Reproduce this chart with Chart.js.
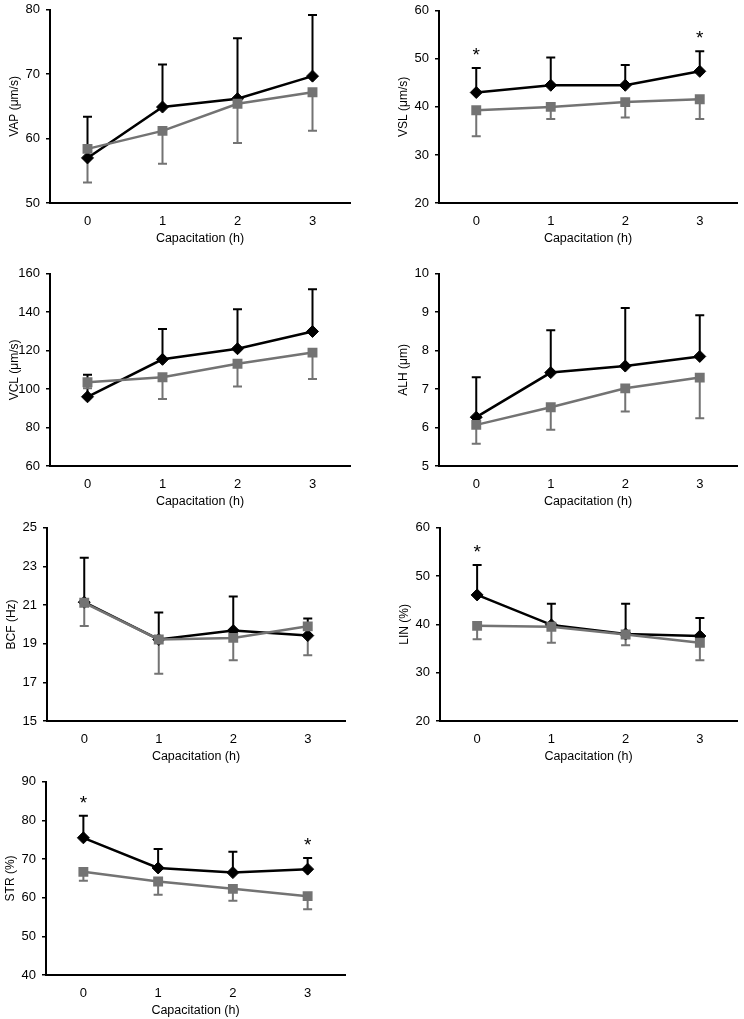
<!DOCTYPE html>
<html>
<head>
<meta charset="utf-8">
<script src="https://cdn.jsdelivr.net/npm/chart.js@4/dist/chart.umd.min.js"></script>
<style>
  body { margin: 0; background: #fff; }
  #page { position: relative; width: 744px; height: 1019px; overflow: hidden; background: #fff; }
  #page canvas { position: absolute; }
</style>
</head>
<body>
<div id="page"></div>
<script>
// --- data ---
const hours = ['0', '1', '2', '3'];

const vapBlack = [57.0, 64.9, 66.2, 69.7];
const vapBlackUp = [63.4, 71.5, 75.6, 79.2];
const vapGray = [58.4, 61.2, 65.4, 67.2];
const vapGrayDown = [53.2, 56.1, 59.3, 61.2];
const vapStars = [];

const vslBlack = [43.0, 44.5, 44.5, 47.4];
const vslBlackUp = [48.1, 50.3, 48.7, 51.6];
const vslGray = [39.3, 40.0, 41.0, 41.6];
const vslGrayDown = [33.9, 37.5, 37.8, 37.5];
const vslStars = [0, 3];

const vclBlack = [96.0, 115.5, 121.0, 130.0];
const vclBlackUp = [107.5, 131.3, 141.5, 152.0];
const vclGray = [103.6, 106.2, 113.2, 119.0];
const vclGrayDown = [100.5, 94.8, 101.4, 105.3];
const vclStars = [];

const alhBlack = [6.27, 7.43, 7.60, 7.85];
const alhBlackUp = [7.31, 8.53, 9.11, 8.92];
const alhGray = [6.07, 6.53, 7.02, 7.30];
const alhGrayDown = [5.58, 5.94, 6.42, 6.24];
const alhStars = [];

const bcfBlack = [21.15, 19.22, 19.68, 19.42];
const bcfBlackUp = [23.45, 20.62, 21.45, 20.30];
const bcfGray = [21.12, 19.22, 19.30, 19.90];
const bcfGrayDown = [19.92, 17.45, 18.15, 18.40];
const bcfStars = [];

const linBlack = [46.1, 39.9, 38.0, 37.6];
const linBlackUp = [52.3, 44.3, 44.3, 41.3];
const linGray = [39.7, 39.5, 37.9, 36.2];
const linGrayDown = [36.9, 36.2, 35.7, 32.6];
const linStars = [0];

const strBlack = [75.5, 67.7, 66.5, 67.4];
const strBlackUp = [81.2, 72.6, 71.9, 70.3];
const strGray = [66.7, 64.2, 62.3, 60.4];
const strGrayDown = [64.4, 60.8, 59.2, 57.0];
const strStars = [0, 3];

const xTitle = 'Capacitation (h)';

// --- panel setup: y axis range + where the plot box sits on the page ---
const panels = [
  { title: 'VAP (μm/s)', min: 50, max: 80, step: 10, black: vapBlack, up: vapBlackUp, gray: vapGray, down: vapGrayDown, stars: vapStars, box: [50, 6, 353, 203] },
  { title: 'VSL (μm/s)', min: 20, max: 60, step: 10, black: vslBlack, up: vslBlackUp, gray: vslGray, down: vslGrayDown, stars: vslStars, box: [439, 7, 740, 203] },
  { title: 'VCL (μm/s)', min: 60, max: 160, step: 20, black: vclBlack, up: vclBlackUp, gray: vclGray, down: vclGrayDown, stars: vclStars, box: [50, 270, 353, 466] },
  { title: 'ALH (μm)', min: 5, max: 10, step: 1, black: alhBlack, up: alhBlackUp, gray: alhGray, down: alhGrayDown, stars: alhStars, box: [439, 270, 740, 466] },
  { title: 'BCF (Hz)', min: 15, max: 25, step: 2, black: bcfBlack, up: bcfBlackUp, gray: bcfGray, down: bcfGrayDown, stars: bcfStars, box: [47, 524, 348, 721] },
  { title: 'LIN (%)', min: 20, max: 60, step: 10, black: linBlack, up: linBlackUp, gray: linGray, down: linGrayDown, stars: linStars, box: [440, 524, 740, 721] },
  { title: 'STR (%)', min: 40, max: 90, step: 10, black: strBlack, up: strBlackUp, gray: strGray, down: strGrayDown, stars: strStars, box: [46, 778, 348, 975] }
];

const BLACK = '#000000';
const GRAY = '#737373';
const FONT = "'Liberation Sans', Arial, Helvetica, sans-serif";
const Y_W = 50;   // width reserved for the y axis
const X_H = 45;   // height reserved for the x axis
const PAD_T = 10;
const PAD_R = 4;

// error bars: black goes up, gray goes down
function errorBars(p) {
  return {
    id: 'errorBars',
    beforeDatasetsDraw(chart) {
      const { ctx, scales: { x, y } } = chart;
      const sets = [[p.black, p.up, BLACK], [p.gray, p.down, GRAY]];
      ctx.save();
      ctx.lineWidth = 2;
      sets.forEach(([means, ends, color]) => {
        ctx.strokeStyle = color;
        means.forEach((m, i) => {
          const px = x.getPixelForValue(i);
          const y0 = y.getPixelForValue(m);
          const y1 = y.getPixelForValue(ends[i]);
          ctx.beginPath();
          ctx.moveTo(px, y0);
          ctx.lineTo(px, y1);
          ctx.moveTo(px - 4.5, y1);
          ctx.lineTo(px + 4.5, y1);
          ctx.stroke();
        });
      });
      ctx.restore();
    }
  };
}

// significance stars above the black error bar
function stars(p) {
  return {
    id: 'stars',
    afterDatasetsDraw(chart) {
      const { ctx, scales: { x, y } } = chart;
      ctx.save();
      ctx.fillStyle = BLACK;
      ctx.font = '19px ' + FONT;
      ctx.textAlign = 'center';
      ctx.textBaseline = 'middle';
      p.stars.forEach(i => {
        ctx.fillText('*', x.getPixelForValue(i), y.getPixelForValue(p.up[i]) - 12);
      });
      ctx.restore();
    }
  };
}

const page = document.getElementById('page');

panels.forEach(p => {
  const [L, T, R, B] = p.box;
  const canvas = document.createElement('canvas');
  const w = (R - L) + Y_W + PAD_R;
  const h = (B - T) + PAD_T + X_H;
  canvas.width = w;
  canvas.height = h;
  canvas.style.left = (L - Y_W) + 'px';
  canvas.style.top = (T - PAD_T) + 'px';
  canvas.style.width = w + 'px';
  canvas.style.height = h + 'px';
  page.appendChild(canvas);

  new Chart(canvas.getContext('2d'), {
    type: 'line',
    data: {
      labels: hours,
      datasets: [
        {
          data: p.gray,
          borderColor: GRAY,
          backgroundColor: GRAY,
          borderWidth: 2.5,
          pointStyle: 'rect',
          pointRadius: 7,
          pointBorderWidth: 0,
          pointBackgroundColor: GRAY,
          tension: 0
        },
        {
          data: p.black,
          borderColor: BLACK,
          backgroundColor: BLACK,
          borderWidth: 2.5,
          pointStyle: 'rectRot',
          pointRadius: 6,
          pointBorderWidth: 1,
          pointBackgroundColor: BLACK,
          tension: 0
        }
      ]
    },
    options: {
      responsive: false,
      animation: false,
      devicePixelRatio: 1,
      layout: { padding: { top: PAD_T, right: PAD_R, left: 0, bottom: 0 } },
      plugins: { legend: { display: false }, tooltip: { enabled: false } },
      scales: {
        x: {
          type: 'category',
          offset: true,
          grid: { display: false, drawTicks: false },
          border: { display: true, color: BLACK, width: 2 },
          ticks: { color: BLACK, padding: 11, font: { family: FONT, size: 13 } },
          title: { display: true, text: xTitle, color: BLACK, padding: { top: 0, bottom: 2 }, font: { family: FONT, size: 12.5 } },
          afterFit(s) { s.height = X_H; }
        },
        y: {
          min: p.min,
          max: p.max,
          grid: { display: true, drawOnChartArea: false, drawTicks: true, tickLength: 4, color: BLACK, lineWidth: 1.5 },
          border: { display: true, color: BLACK, width: 2 },
          ticks: { stepSize: p.step, color: BLACK, padding: 6, font: { family: FONT, size: 13 } },
          title: { display: true, text: p.title, color: BLACK, padding: { top: 7, bottom: 0 }, font: { family: FONT, size: 12 } },
          afterFit(s) { s.width = Y_W; }
        }
      }
    },
    plugins: [errorBars(p), stars(p)]
  });
});
</script>
</body>
</html>
